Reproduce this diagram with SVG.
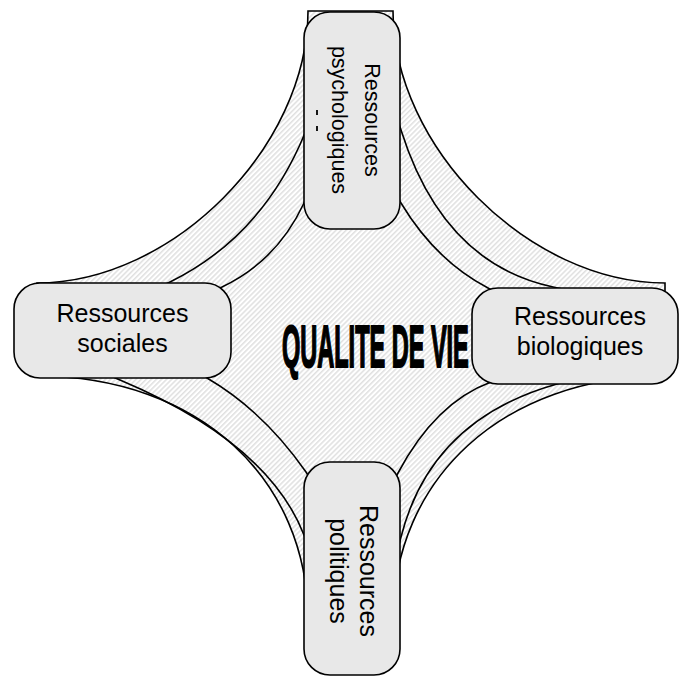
<svg xmlns="http://www.w3.org/2000/svg" width="680" height="676" viewBox="0 0 680 676">
  <defs>
    <pattern id="hatch" patternUnits="userSpaceOnUse" width="3.6" height="3.6" patternTransform="rotate(45)">
      <rect width="3.6" height="3.6" fill="#ffffff"/>
      <line x1="0.8" y1="0" x2="0.8" y2="3.6" stroke="#d8d8d8" stroke-width="1.2"/>
    </pattern>
  </defs>
  <style>
    .outline { fill: none; stroke: #000; stroke-width: 1.6; }
    .node rect { fill: #e8e8e8; stroke: #000; stroke-width: 1.6; }
    .lbl { font-family: "Liberation Sans", Arial, sans-serif; fill: #000; text-anchor: middle; }
    .big { font-size: 25px; }
    .small { font-size: 21.5px; }
  </style>
  <rect width="680" height="676" fill="#ffffff"/>

  <g id="star">
    <path d="M308,11 L393,11 C393,147 529,283 665,283 L665,376 C502,376 393,480 393,620 L393,640 L308,640 L308,620 C308,480 200,376 37,376 L37,283 C172.5,283 308,147 308,11 Z" fill="url(#hatch)" stroke="#000" stroke-width="1.6"/>
  </g>

  <g id="connectors" class="outline">
    <path d="M161,286.5 L170,282 Q262.5,236.5 305,133 L309,123"/>
    <path d="M213,291 L222,287 Q277,261 304,203 L308,194"/>
    <path d="M398,120.5 L401,130 Q443,263.5 553,287 L572,291"/>
    <path d="M396,195 L401,203 Q435.5,260.5 488,288 L497,293"/>
    <path d="M106,374 L120,380 Q268,442.5 304,535 L308,545"/>
    <path d="M198,373 L207,378 Q263.5,411 306,472 L311,480"/>
    <path d="M393.3,481.8 L398,473 Q435.5,402.5 491,382 L502,378"/>
    <path d="M398.5,546.7 L401,537 Q431,419.5 557,384 L566.6,381.3"/>
  </g>

  <g id="center">
    <text transform="translate(282,367) scale(0.392,1)" x="0" y="0" font-family="'Liberation Sans', Arial, sans-serif" font-weight="bold" font-size="60" fill="#000" stroke="#000" stroke-width="1.6" vector-effect="non-scaling-stroke">QUALITE DE VIE</text>
  </g>

  <g id="node-psychologiques" class="node">
    <rect x="304" y="12" width="96" height="217" rx="26" ry="26"/>
    <text class="lbl small" transform="translate(365,120) rotate(90)" x="0" y="0">Ressources</text>
    <text class="lbl small" transform="translate(332,120) rotate(90)" x="0" y="0">psychologiques</text>
    <path d="M317,110 L317,115 M317,126 L317,131" stroke="#000" stroke-width="1.8" fill="none"/>
  </g>

  <g id="node-sociales" class="node">
    <rect x="14" y="283" width="217" height="95" rx="26" ry="26"/>
    <text class="lbl big" x="122.5" y="322">Ressources</text>
    <text class="lbl big" x="122.5" y="352">sociales</text>
  </g>

  <g id="node-biologiques" class="node">
    <rect x="472" y="288" width="206" height="96" rx="26" ry="26"/>
    <text class="lbl big" x="580" y="325">Ressources</text>
    <text class="lbl big" x="580" y="355">biologiques</text>
  </g>

  <g id="node-politiques" class="node">
    <rect x="304" y="462" width="96" height="213" rx="26" ry="26"/>
    <text class="lbl big" transform="translate(360,571) rotate(90)" x="0" y="0">Ressources</text>
    <text class="lbl big" transform="translate(330,571) rotate(90)" x="0" y="0">politiques</text>
  </g>
</svg>
